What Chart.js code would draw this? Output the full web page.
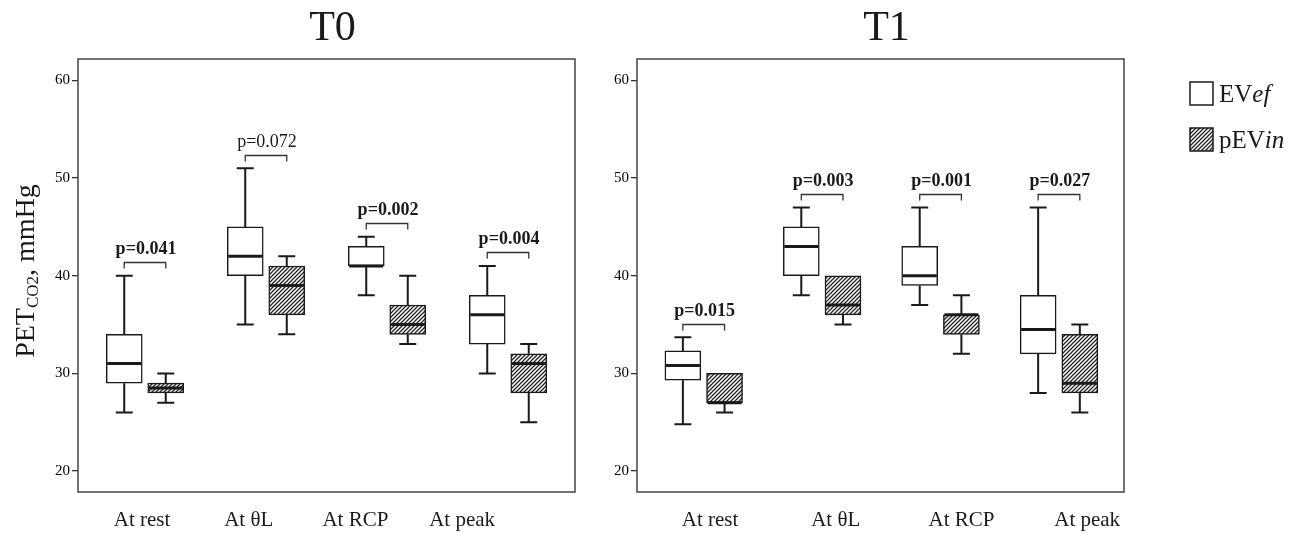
<!DOCTYPE html>
<html>
<head>
<meta charset="utf-8">
<script src="https://cdn.jsdelivr.net/npm/chart.js@4.4.1/dist/chart.umd.min.js"></script>
<style>
    html, body { margin: 0; padding: 0; background: #fff; }
    #wrap { position: relative; width: 1301px; height: 533px; overflow: hidden; }
    canvas { position: absolute; top: 0; }
</style>
</head>
<body>
<div id="wrap">
    <canvas id="t0" width="600" height="533" style="left:0"></canvas>
    <canvas id="t1" width="701" height="533" style="left:600px"></canvas>
</div>
<script>
const categories = ['At rest', 'At θL', 'At RCP', 'At peak'];
const yTicks = [20, 30, 40, 50, 60];

// each box: [min, q1, median, q3, max]
const t0EVef = [[26, 29, 31, 34, 40], [35, 40, 42, 45, 51], [38, 41, 41, 43, 44], [30, 33, 36, 38, 41]];
const t0pEVin = [[27, 28, 28.5, 29, 30], [34, 36, 39, 41, 42], [33, 34, 35, 37, 40], [25, 28, 31, 32, 33]];
const t1EVef = [[24.8, 29.3, 30.8, 32.3, 33.7], [38, 40, 43, 45, 47], [37, 39, 40, 43, 47], [28, 32, 34.5, 38, 47]];
const t1pEVin = [[26, 27, 27, 30, 30], [35, 36, 37, 40, 40], [32, 34, 36, 36, 38], [26, 28, 29, 34, 35]];

const t0PValues = ['p=0.041', 'p=0.072', 'p=0.002', 'p=0.004'];
const t0PBold = [true, false, true, true];
const t1PValues = ['p=0.015', 'p=0.003', 'p=0.001', 'p=0.027'];
const t1PBold = [true, true, true, true];

const SERIF = '"Liberation Serif", "Times New Roman", serif';
const INK = '#1a1a1a';

const makeHatch = (ctx) => {
    const tile = document.createElement('canvas');
    tile.width = 4;
    tile.height = 4;
    const g = tile.getContext('2d');
    g.fillStyle = '#fff';
    g.fillRect(0, 0, 4, 4);
    g.strokeStyle = '#222';
    g.lineWidth = 1.3;
    g.beginPath();
    g.moveTo(0, 4); g.lineTo(4, 0);
    g.moveTo(-1, 1); g.lineTo(1, -1);
    g.moveTo(3, 5); g.lineTo(5, 3);
    g.stroke();
    return ctx.createPattern(tile, 'repeat');
};

function drawYTitle(ctx, cx, cy) {
    const big = '28px ' + SERIF, small = '17px ' + SERIF;
    ctx.save();
    ctx.font = big;
    const w1 = ctx.measureText('PET').width;
    const w3 = ctx.measureText(', mmHg').width;
    ctx.font = small;
    const w2 = ctx.measureText('CO2').width;
    const total = w1 + w2 + w3;
    ctx.translate(cx, cy);
    ctx.rotate(-Math.PI / 2);
    ctx.fillStyle = INK;
    ctx.textBaseline = 'alphabetic';
    let x = -total / 2;
    ctx.font = big;
    ctx.fillText('PET', x, 10);
    x += w1;
    ctx.font = small;
    ctx.fillText('CO2', x, 14);
    x += w2;
    ctx.font = big;
    ctx.fillText(', mmHg', x, 10);
    ctx.restore();
}

function drawLegend(ctx, pattern) {
    const items = [['EV', 'ef', '#fff', 82], ['pEV', 'in', pattern, 128]];
    ctx.save();
    items.forEach(([a, b, fill, top]) => {
        ctx.fillStyle = fill;
        ctx.fillRect(590, top, 23, 23);
        ctx.strokeStyle = INK;
        ctx.lineWidth = 1.5;
        ctx.strokeRect(590, top, 23, 23);
        ctx.fillStyle = INK;
        ctx.textBaseline = 'middle';
        ctx.textAlign = 'left';
        ctx.font = '25px ' + SERIF;
        ctx.fillText(a, 619, top + 13);
        const w = ctx.measureText(a).width;
        ctx.font = 'italic 25px ' + SERIF;
        ctx.fillText(b, 619 + w, top + 13);
    });
    ctx.restore();
}

function makePanel(id, opt) {
    const canvas = document.getElementById(id);
    const ctx = canvas.getContext('2d');
    const pattern = makeHatch(ctx);
    const groups = [opt.ev, opt.pev];

    const datasets = groups.map((g, k) => ({
        data: g.map((b, i) => ({ x: i + 1 + (k ? opt.shift : -opt.shift), y: [b[1], b[3]] })),
        backgroundColor: k ? pattern : '#fff',
        borderColor: INK,
        borderWidth: 1.5,
        borderSkipped: false,
        barThickness: 36,
        grouped: false,
        xAxisID: 'x',
        yAxisID: 'y'
    }));

    const decor = {
        id: 'decor',
        afterDatasetsDraw(chart) {
            const c = chart.ctx;
            const { x, y } = chart.scales;
            c.save();
            c.strokeStyle = INK;
            groups.forEach((g, k) => {
                const meta = chart.getDatasetMeta(k);
                g.forEach((b, i) => {
                    const px = x.getPixelForValue(i + 1 + (k ? opt.shift : -opt.shift));
                    const half = meta.data[i].width / 2;
                    const [mn, q1, md, q3, mx] = b.map(v => y.getPixelForValue(v));
                    c.lineWidth = 2;
                    c.beginPath();
                    if (mx < q3) {
                        c.moveTo(px, q3); c.lineTo(px, mx);
                        c.moveTo(px - 8.5, mx); c.lineTo(px + 8.5, mx);
                    }
                    if (mn > q1) {
                        c.moveTo(px, q1); c.lineTo(px, mn);
                        c.moveTo(px - 8.5, mn); c.lineTo(px + 8.5, mn);
                    }
                    c.stroke();
                    c.lineWidth = 3;
                    c.beginPath();
                    c.moveTo(px - half + 1, md); c.lineTo(px + half - 1, md);
                    c.stroke();
                });
            });
            // significance brackets
            opt.pTexts.forEach((t, i) => {
                const x1 = x.getPixelForValue(i + 1 - opt.shift);
                const x2 = x.getPixelForValue(i + 1 + opt.shift);
                const top = Math.max(groups[0][i][4], groups[1][i][4]) + 1.4;
                const by = Math.round(y.getPixelForValue(top)) + 0.5;
                c.lineWidth = 1.3;
                c.strokeStyle = '#333';
                c.beginPath();
                c.moveTo(x1, by + 6); c.lineTo(x1, by); c.lineTo(x2, by); c.lineTo(x2, by + 6);
                c.stroke();
                c.fillStyle = INK;
                c.textAlign = 'center';
                c.textBaseline = 'middle';
                c.font = (opt.pBold[i] ? 'bold ' : '') + '18px ' + SERIF;
                c.fillText(t, (x1 + x2) / 2 + 1, by - 13);
            });
            c.restore();
        },
        afterDraw(chart) {
            const c = chart.ctx;
            const a = chart.chartArea;
            c.save();
            c.strokeStyle = '#444';
            c.lineWidth = 1.5;
            c.strokeRect(a.left, a.top, a.right - a.left, a.bottom - a.top);
            c.fillStyle = INK;
            c.textAlign = 'center';
            c.textBaseline = 'middle';
            c.font = '42px ' + SERIF;
            c.fillText(opt.title, (a.left + a.right) / 2 + 6, 29);
            c.restore();
            if (opt.yTitle) drawYTitle(c, 24, 271);
            if (opt.legend) drawLegend(c, pattern);
        }
    };

    return new Chart(ctx, {
        type: 'bar',
        data: { datasets },
        options: {
            responsive: false,
            animation: false,
            devicePixelRatio: 1,
            layout: { padding: { left: 0, right: opt.padRight, top: 59, bottom: 0 } },
            plugins: { legend: { display: false }, tooltip: { enabled: false } },
            scales: {
                x: { type: 'linear', display: false, offset: false, min: opt.xMin, max: opt.xMax },
                xl: {
                    type: 'linear',
                    position: 'bottom',
                    offset: false,
                    min: opt.lMin,
                    max: opt.lMax,
                    grid: { display: false },
                    border: { display: false },
                    afterBuildTicks: s => { s.ticks = categories.map((_, i) => ({ value: i + 1 })); },
                    afterFit: s => { s.height = 41; },
                    ticks: {
                        autoSkip: false,
                        maxRotation: 0,
                        padding: 8,
                        color: INK,
                        font: { family: SERIF, size: 21 },
                        callback: v => categories[v - 1]
                    }
                },
                y: {
                    type: 'linear',
                    min: 17.85,
                    max: 62.2,
                    afterBuildTicks: s => { s.ticks = yTicks.map(v => ({ value: v })); },
                    afterFit: s => { s.width = opt.yWidth; },
                    grid: { drawOnChartArea: false, tickLength: 6, color: '#333', lineWidth: 1.3 },
                    border: { display: false },
                    ticks: { padding: 2, color: '#000', font: { family: SERIF, size: 15 } }
                }
            }
        },
        plugins: [decor]
    });
}

makePanel('t0', {
    ev: t0EVef, pev: t0pEVin, pTexts: t0PValues, pBold: t0PBold, title: 'T0',
    xMin: 0.4463, xMax: 4.5537, shift: 0.1715, lMin: 0.4, lMax: 5.058,
    padRight: 25, yWidth: 78, yTitle: true
});
makePanel('t1', {
    ev: t1EVef, pev: t1pEVin, pTexts: t1PValues, pBold: t1PBold, title: 'T1',
    xMin: 0.4367, xMax: 4.549, shift: 0.176, lMin: 0.419, lMax: 4.293,
    padRight: 177, yWidth: 37, legend: true
});
</script>
</body>
</html>
